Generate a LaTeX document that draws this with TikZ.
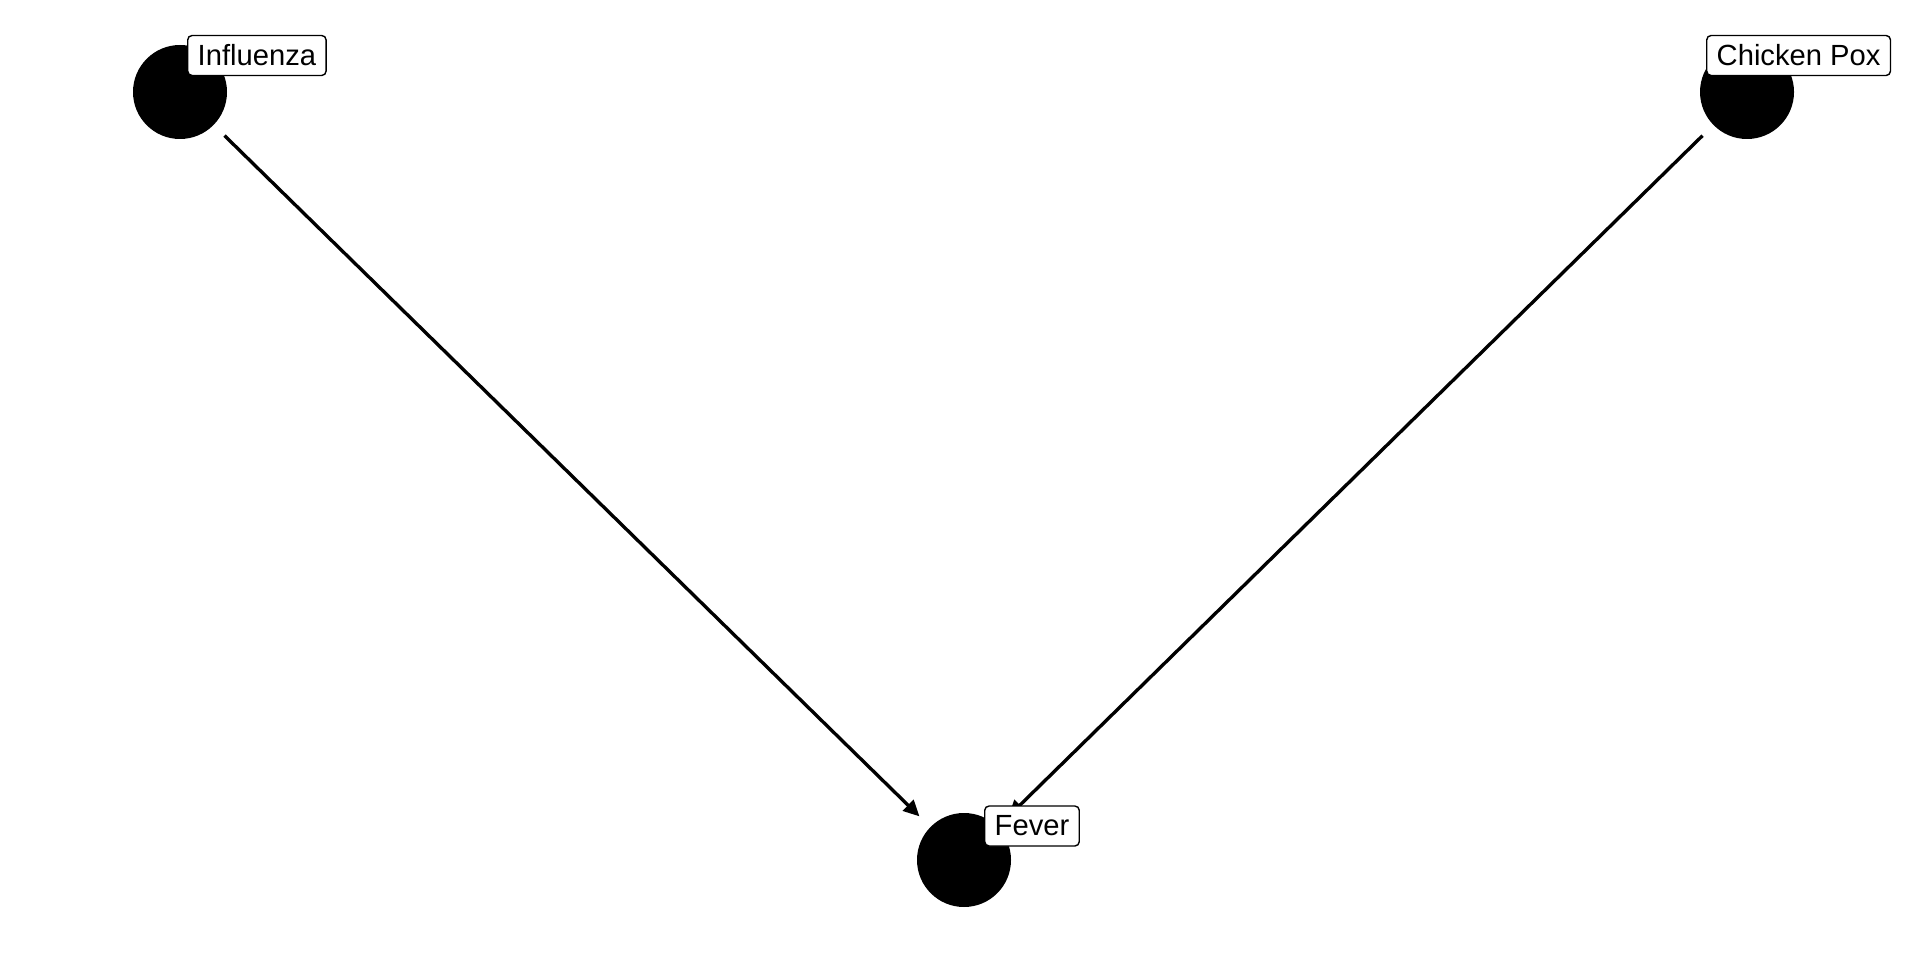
\documentclass[tikz,border=0pt]{standalone}
\usepackage{fontspec}
\setmainfont{Liberation Sans}
\usetikzlibrary{arrows.meta}
\tikzset{
	dot/.style={circle,fill=black,minimum size=1.88cm,inner sep=0pt},
	lab/.style={draw=black,fill=white,rounded corners=2.5pt,line width=0.8pt,font=\fontsize{16.6}{16.6}\selectfont,inner xsep=0.2cm,minimum height=0.8cm,anchor=west},
	edge/.style={line width=1.9pt,shorten <=0.3cm,shorten >=0.3cm,-{Triangle[length=0.32cm,width=0.3cm]}}
}
\begin{document}
\begin{tikzpicture}
		\useasboundingbox (0,0) rectangle (38.4,-19.2);
			\node[dot] (infl) at (3.6,-1.84){};
			\node[dot] (pox) at (34.94,-1.84){};
			\node[dot] (fever) at (19.28,-17.2){};
			\draw[edge] (infl) to (fever);
			\draw[edge] (pox) to (fever);
			\node[lab] (linfl) at (3.74,-1.11){Influenza};
			\node[lab] (lpox) at (34.12,-1.11){Chicken Pox};
			\node[lab] (lfever) at (19.68,-16.52){Fever};
		\end{tikzpicture}
\end{document}
